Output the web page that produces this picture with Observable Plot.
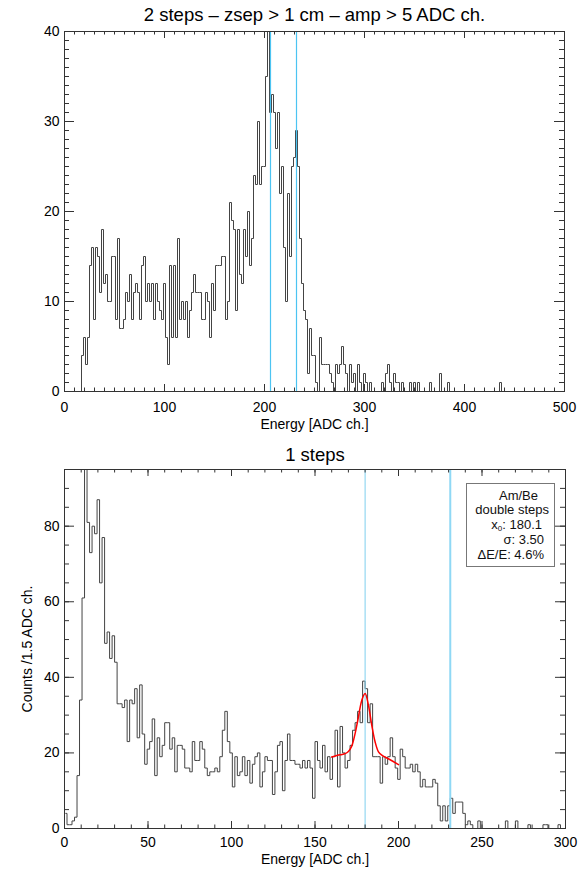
<!DOCTYPE html>
<html><head><meta charset="utf-8">
<script src="https://cdn.jsdelivr.net/npm/d3@7"></script>
<script src="https://cdn.jsdelivr.net/npm/@observablehq/plot@0.6"></script>
<style>
body{margin:0;background:#fff;font-family:"Liberation Sans",Arial,sans-serif}
#wrap{position:relative;width:581px;height:873px;overflow:hidden}
#wrap svg{display:block}
.leg{position:absolute;left:466px;top:483px;width:89px;height:84px;border:1px solid #777;background:#fff;box-sizing:border-box}
.lt{position:absolute;font-size:13px;line-height:1;white-space:nowrap;color:#111;text-align:right}
.lt sub{font-size:8px;vertical-align:-2px}
</style></head><body><div id="wrap"></div>
<script>
// ---------- data ----------
const topTitle = "2 steps \u2013 zsep > 1 cm \u2013 amp > 5 ADC ch.";
const bottomTitle = "1 steps";
const xLabel = "Energy [ADC ch.]";
const yLabel = "Counts /1.5 ADC ch.";

// top histogram: bins of 2 ADC ch. starting at 1
const topBinStart = 1, topBinWidth = 2;
const topCounts = [
  0,0,0,0,0,0,0,0,4,6,
  3,6,14,16,8,16,15,11,18,12,
  13,10,10,15,15,8,17,7,7,8,
  11,10,13,8,11,12,11,8,14,15,
  10,12,10,12,8,12,10,9,8,12,
  6,3,14,6,14,6,17,8,10,8,
  10,6,9,11,13,11,11,11,8,8,
  11,10,6,12,9,14,14,14,15,15,
  8,10,21,19,18,9,18,13,12,18,
  15,20,14,17,24,23,30,23,25,25,
  35,45,31,33,31,27,31,22,25,16,
  10,22,15,25,26,29,25,17,12,9,
  8,2,7,4,4,1,0,6,3,3,
  3,3,2,1,0,3,2,3,5,3,
  2,0,3,1,2,0,3,1,0,2,
  1,0,1,0,0,0,0,0,1,0,
  2,3,1,0,2,1,1,0,1,0,
  0,0,1,0,1,0,1,0,0,0,
  0,0,1,0,0,0,0,2,0,0,
  0,1,0,0,0,0,0,0,0,0,
  0,0,0,0,0,0,0,0,0,0,
  0,0,0,0,0,0,0,1,0,0
];
const topMarkers = [206, 232];
const topXTicks = [0, 100, 200, 300, 400, 500];
const topYTicks = [0, 10, 20, 30, 40];

// bottom histogram: bins of 1.5 ADC ch. starting at 0
const botBinStart = 0, botBinWidth = 1.5;
const botCounts = [
  4,1,1,2,3,14,34,61,110,81,
  73,80,78,87,65,77,49,52,45,51,
  44,33,33,32,34,23,34,33,37,24,
  38,25,17,21,23,29,14,24,19,22,
  28,28,21,24,15,22,22,21,16,16,
  15,23,18,18,23,21,16,14,15,15,
  16,15,19,26,31,23,20,11,19,14,
  15,19,14,18,12,17,19,20,11,15,
  19,18,18,9,15,22,23,10,18,25,
  18,18,17,17,16,18,16,18,16,8,
  23,18,16,22,15,19,13,19,26,11,
  27,20,16,18,22,26,28,31,28,39,
  37,28,33,19,19,19,12,19,17,19,
  24,19,16,13,21,19,16,16,17,15,
  17,15,11,13,11,11,11,13,12,6,
  2,6,2,6,8,4,7,7,7,4,
  1,2,1,0,0,2,0,0,0,0,
  0,0,0,0,0,0,2,0,0,0,
  2,0,0,0,0,1,0,0,0,0,
  0,1,1,0,0,0,0,1,0,0
];
const fitX = [160,165,168,170,172,174,176,178,180,182,184,186,188,190,195,200];
const fitY = [18.9,19.5,19.8,20.4,21.8,25.1,29.5,33.9,35.7,32.6,27.3,22.9,20.3,19.4,18.2,16.9];
const peakMarker = [180];
const edgeMarker = [231];
const botXTicks = [0, 50, 100, 150, 200, 250, 300];
const botYTicks = [0, 20, 40, 60, 80];
const legendLines = ["Am/Be", "double steps", "x<sub>0</sub>: 180.1", "\u03c3: 3.50", "\u0394E/E: 4.6%"];

// ---------- drawing ----------
const FONT = "'Liberation Sans', Arial, Helvetica, sans-serif";
const AX = "#333";
const W = 581;

function tickMarks(xMaj, xMin, yMaj, yMin, fw, fh) {
  const XL = 7, xl = 3.5, YL = 10, yl = 5;
  const o = {stroke: AX, strokeWidth: 1};
  return [
    Plot.tickX(xMaj, {x: d => d, insetTop: fh - XL, ...o}),
    Plot.tickX(xMaj, {x: d => d, insetBottom: fh - XL, ...o}),
    Plot.tickX(xMin, {x: d => d, insetTop: fh - xl, ...o}),
    Plot.tickX(xMin, {x: d => d, insetBottom: fh - xl, ...o}),
    Plot.tickY(yMaj, {y: d => d, insetRight: fw - YL, ...o}),
    Plot.tickY(yMaj, {y: d => d, insetLeft: fw - YL, ...o}),
    Plot.tickY(yMin, {y: d => d, insetRight: fw - yl, ...o}),
    Plot.tickY(yMin, {y: d => d, insetLeft: fw - yl, ...o})
  ];
}

const topData = topCounts.map((c, i) => ({x: topBinStart + topBinWidth * (i + 0.5), y: c}));
const botData = botCounts.map((c, i) => ({x: botBinStart + botBinWidth * (i + 0.5), y: c}));
const fitData = fitX.map((x, i) => ({x, y: fitY[i]}));

const txt = {lineAnchor: "middle", textAnchor: "middle", fill: "#000"};

const mT = {top: 31, bottom: 45, left: 64, right: 17};
const hT = 436;
const topPlot = Plot.plot({
  width: W, height: hT,
  marginTop: mT.top, marginBottom: mT.bottom, marginLeft: mT.left, marginRight: mT.right,
  style: {fontFamily: FONT, fontSize: "14px", color: "#000", background: "#fff"},
  x: {domain: [0, 500], ticks: topXTicks, tickSize: 0, tickPadding: 11, label: null, tickFormat: d => String(d)},
  y: {domain: [0, 40], ticks: topYTicks, tickSize: 0, tickPadding: 5, label: null, tickFormat: d => String(d)},
  marks: [
    Plot.line(topData, {x: "x", y: "y", curve: "step", stroke: "#444", strokeWidth: 1, clip: true}),
    Plot.ruleX(topMarkers, {x: d => d, stroke: "#4cc4f2", strokeWidth: 1.2}),
    ...tickMarks(topXTicks, d3.range(0, 501, 10), topYTicks, d3.range(0, 41, 1),
      W - mT.left - mT.right, hT - mT.top - mT.bottom),
    Plot.frame({stroke: AX}),
    Plot.text([topTitle], {text: d => d, frameAnchor: "top", dy: -16, fontSize: 18.5, ...txt}),
    Plot.text([xLabel], {text: d => d, frameAnchor: "bottom", dy: 33, fontSize: 14, ...txt})
  ]
});

const mB = {top: 33, bottom: 45, left: 64, right: 16};
const hB = 437;
const botPlot = Plot.plot({
  width: W, height: hB,
  marginTop: mB.top, marginBottom: mB.bottom, marginLeft: mB.left, marginRight: mB.right,
  style: {fontFamily: FONT, fontSize: "14px", color: "#000", background: "#fff"},
  x: {domain: [0, 300], ticks: botXTicks, tickSize: 0, tickPadding: 9, label: null, tickFormat: d => String(d)},
  y: {domain: [0, 95], ticks: botYTicks, tickSize: 0, tickPadding: 5, label: null, tickFormat: d => String(d)},
  marks: [
    Plot.line(botData, {x: "x", y: "y", curve: "step", stroke: "#444", strokeWidth: 1, clip: true}),
    Plot.ruleX(peakMarker, {x: d => d, stroke: "#7fcfee", strokeWidth: 1}),
    Plot.ruleX(edgeMarker, {x: d => d, stroke: "#8fd8f5", strokeWidth: 2}),
    Plot.line(fitData, {x: "x", y: "y", curve: "catmull-rom", stroke: "#ff0000", strokeWidth: 1.5}),
    ...tickMarks(botXTicks, d3.range(0, 301, 10), botYTicks, d3.range(0, 96, 5),
      W - mB.left - mB.right, hB - mB.top - mB.bottom),
    Plot.frame({stroke: AX}),
    Plot.text([bottomTitle], {text: d => d, frameAnchor: "top", dy: -14, fontSize: 18.5, ...txt}),
    Plot.text([xLabel], {text: d => d, frameAnchor: "bottom", dy: 31, fontSize: 14, ...txt}),
    Plot.text([yLabel], {text: d => d, frameAnchor: "left", dx: -37, rotate: -90, fontSize: 14, ...txt})
  ]
});

const wrap = document.getElementById("wrap");
wrap.appendChild(topPlot);
wrap.appendChild(botPlot);

// legend box (overlay)
const leg = document.createElement("div");
leg.className = "leg";
wrap.appendChild(leg);
const legRight = [538, 549, 542, 544, 544];
const legBase = [500, 514, 529, 544, 559];
legendLines.forEach((t, i) => {
  const s = document.createElement("div");
  s.className = "lt";
  s.innerHTML = t;
  s.style.right = (W - legRight[i]) + "px";
  s.style.top = (legBase[i] - 11) + "px";
  wrap.appendChild(s);
});
</script></body></html>
